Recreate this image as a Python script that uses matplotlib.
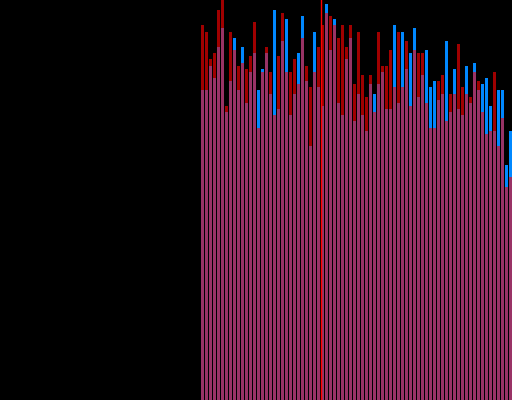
import numpy as np
import matplotlib
matplotlib.use("Agg")
import matplotlib.pyplot as plt

# body level (pink part) and top level (coloured part) of each bar
low = [310, 310, 334, 322, 353, 372, 288, 319, 350, 310, 337, 297,
       328, 347, 272, 328, 347, 306, 285, 291, 359, 328, 285, 306,
       316, 362, 319, 254, 328, 313, 294, 387, 350, 375, 297, 285,
       341, 362, 279, 306, 285, 269, 316, 288, 316, 328, 291, 291,
       313, 297, 313, 331, 294, 350, 303, 325, 297, 272, 272, 300,
       306, 279, 288, 306, 291, 285, 306, 297, 328, 310, 288, 266,
       269, 269, 254, 282, 213, 223]
high = [375, 368, 341, 347, 390, 400, 294, 368, 362, 334, 353, 331,
        344, 378, 310, 331, 353, 328, 390, 344, 387, 381, 328, 341,
        347, 384, 334, 313, 368, 353, 375, 396, 384, 381, 362, 375,
        353, 375, 316, 368, 325, 303, 325, 306, 368, 334, 334, 350,
        375, 368, 368, 359, 347, 372, 347, 347, 350, 313, 319, 319,
        325, 359, 306, 331, 356, 313, 334, 303, 337, 319, 316, 322,
        294, 328, 310, 310, 235, 269]
# R = falling (dark red), B = rising (blue)
direction = list("RRRRRRRRBRBR" "RRBBRRBRRBRR" "BBRRBRRBRBRR"
                 "RRRRRRRBRRRR" "BRBRBBRRBBBR" "RBRBRRBRBRBB" "BRBBBB")
marker_pos = 29.5

x = np.arange(len(low))
low = np.array(low)
high = np.array(high)
cols = ['#a00000' if d == 'R' else '#0088ff' for d in direction]

fig = plt.figure(figsize=(5.12, 4.0), dpi=100, facecolor='black')
ax = fig.add_axes([0, 0, 1, 1])
ax.set_facecolor('black')

ax.bar(x, low, width=0.75, color='#993366', linewidth=0, antialiased=False)
ax.bar(x, high - low, bottom=low, width=0.75, color=cols, linewidth=0,
       antialiased=False)
ax.axvline(marker_pos, color='#ff0000', linewidth=1.0)

ax.set_xlim(-50.625, 77.375)
ax.set_ylim(0, 400)
ax.axis('off')

fig.savefig('out.png', dpi=100, facecolor='black')
